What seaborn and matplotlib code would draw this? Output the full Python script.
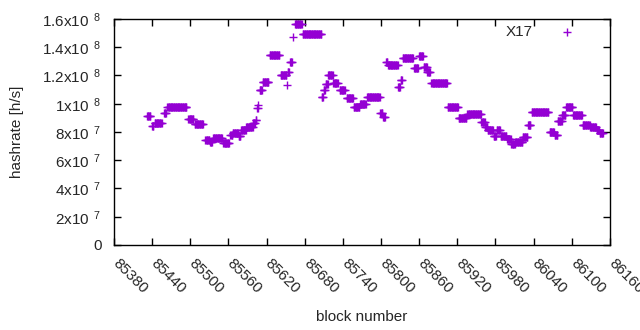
import numpy as np
import pandas as pd
import matplotlib
matplotlib.use("Agg")
import matplotlib.pyplot as plt
import matplotlib.transforms as mtransforms
import seaborn as sns

# runs of blocks that share one hashrate estimate (value in units of 1e8 h/s)
run_start = [85432, 85440, 85444, 85459, 85464, 85497, 85507, 85524, 85531, 85536,
             85552, 85563, 85567, 85576, 85580, 85588, 85599, 85603, 85605, 85607,
             85609, 85614, 85625, 85642, 85652, 85653, 85657, 85662, 85665, 85677,
             85707, 85710, 85713, 85717, 85725, 85735, 85746, 85757, 85767, 85778,
             85799, 85803, 85808, 85811, 85827, 85831, 85834, 85852, 85860, 85867,
             85873, 85879, 85905, 85922, 85936, 85958, 85964, 85968, 85977, 85982,
             85988, 85998, 86005, 86011, 86023, 86031, 86037, 86065, 86073, 86078,
             86085, 86091, 86102, 86117, 86129, 86139, 86144]
run_end = [85437, 85442, 85455, 85462, 85494, 85505, 85520, 85530, 85534, 85550,
           85561, 85566, 85575, 85579, 85587, 85598, 85602, 85604, 85606, 85607,
           85613, 85623, 85640, 85651, 85652, 85655, 85660, 85662, 85675, 85706,
           85709, 85712, 85716, 85724, 85732, 85743, 85756, 85766, 85776, 85798,
           85802, 85806, 85810, 85826, 85830, 85833, 85850, 85858, 85866, 85872,
           85877, 85904, 85921, 85934, 85957, 85963, 85967, 85976, 85981, 85987,
           85997, 86004, 86010, 86022, 86030, 86035, 86063, 86072, 86077, 86084,
           86090, 86101, 86116, 86128, 86138, 86143, 86149]
run_value = [0.913, 0.845, 0.862, 0.934, 0.977, 0.892, 0.857, 0.743, 0.729, 0.758,
             0.722, 0.779, 0.793, 0.772, 0.814, 0.835, 0.860, 0.885, 0.970, 0.990,
             1.100, 1.155, 1.345, 1.204, 1.133, 1.225, 1.296, 1.473, 1.565, 1.494,
             1.048, 1.097, 1.140, 1.204, 1.147, 1.097, 1.041, 0.977, 0.998, 1.048,
             0.934, 0.906, 1.296, 1.274, 1.120, 1.170, 1.324, 1.253, 1.338, 1.260,
             1.225, 1.147, 0.977, 0.899, 0.930, 0.871, 0.835, 0.814, 0.772, 0.814,
             0.772, 0.750, 0.715, 0.729, 0.765, 0.850, 0.942, 0.800, 0.779, 0.880,
             0.920, 0.977, 0.920, 0.850, 0.835, 0.814, 0.793]

x_ticks = list(range(85380, 86161, 60))
y_ticks = [0, 2e7, 4e7, 6e7, 8e7, 1e8, 1.2e8, 1.4e8, 1.6e8]
y_ticklabels = ["0", r"2x10 $^{\,7}$", r"4x10 $^{\,7}$", r"6x10 $^{\,7}$", r"8x10 $^{\,7}$",
                r"1x10 $^{\,8}$", r"1.2x10 $^{\,8}$", r"1.4x10 $^{\,8}$", r"1.6x10 $^{\,8}$"]

blocks = []
rates = []
for s, e, v in zip(run_start, run_end, run_value):
    for b in range(s, e + 1):
        blocks.append(b)
        rates.append(v * 1e8)
data = pd.DataFrame({"block": blocks, "hashrate": rates})

sns.set_style("ticks")
plt.rcParams["font.family"] = ["Liberation Sans", "DejaVu Sans"]
plt.rcParams["mathtext.fontset"] = "custom"
plt.rcParams["mathtext.rm"] = "Liberation Sans"
plt.rcParams["mathtext.it"] = "Liberation Sans"

fig = plt.figure(figsize=(6.4, 3.3), dpi=100)
ax = fig.add_axes([0.178, 0.2576, 0.775, 0.685])

sns.scatterplot(data=data, x="block", y="hashrate", marker="+", s=40,
                color="#9400d3", linewidth=1, label="X17", ax=ax)

ax.set_xlim(85380, 86160)
ax.set_ylim(0, 1.6e8)
ax.set_xticks(x_ticks)
ax.set_yticks(y_ticks)
ax.set_yticklabels(y_ticklabels, fontsize=11)
ax.tick_params(direction="in", top=True, right=True, length=5, width=1, color="black")
ax.tick_params(axis="x", pad=8)
ax.tick_params(axis="y", pad=9)
ax.set_xticklabels([str(t) for t in x_ticks], rotation=-45, ha="left", va="top",
                   rotation_mode="anchor", fontsize=11)
# gnuplot puts the rotated labels a bit to the right of the tick
shift = mtransforms.ScaledTranslation(6 / 100, 0, fig.dpi_scale_trans)
for lab in ax.xaxis.get_majorticklabels():
    lab.set_transform(lab.get_transform() + shift)
for sp in ax.spines.values():
    sp.set_linewidth(1)
    sp.set_color("black")

ax.set_xlabel("block number", fontsize=11, labelpad=10)
ax.set_ylabel("hashrate [h/s]", fontsize=11, labelpad=13)

ax.legend(loc="upper right", bbox_to_anchor=(0.956, 1.0), frameon=False,
          markerfirst=False, fontsize=11, handlelength=2, borderaxespad=0,
          handletextpad=1.2)

fig.savefig("out.png", dpi=100)
